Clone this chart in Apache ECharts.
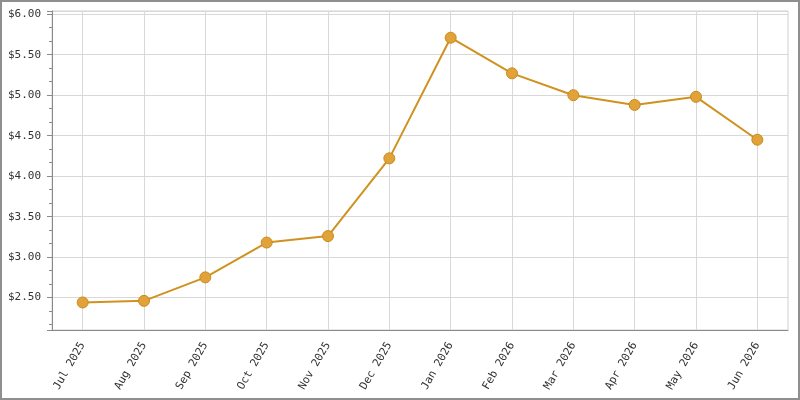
<!DOCTYPE html>
<html>
<head>
<meta charset="utf-8">
<script src="https://cdn.jsdelivr.net/npm/echarts@6/dist/echarts.min.js"></script>
<style>
  html, body { margin: 0; padding: 0; background: #fff; }
  #frame { width: 800px; height: 400px; box-sizing: border-box; border: 2px solid #8f8f8f; }
  #main { width: 796px; height: 396px; }
</style>
</head>
<body>
<div id="frame"><div id="main"></div></div>
<script>
var months = ['Jul 2025', 'Aug 2025', 'Sep 2025', 'Oct 2025', 'Nov 2025', 'Dec 2025',
              'Jan 2026', 'Feb 2026', 'Mar 2026', 'Apr 2026', 'May 2026', 'Jun 2026'];
var prices = [2.44, 2.46, 2.75, 3.18, 3.26, 4.22, 5.71, 5.27, 5.00, 4.88, 4.98, 4.45];

var myChart = echarts.init(document.getElementById('main'));
var mono = 'DejaVu Sans Mono';

myChart.setOption({
    animation: false,
    grid: {
        left: 50, right: 10, top: 9, bottom: 68,
        show: true, borderColor: '#d0d0d0', borderWidth: 1,
        outerBoundsMode: 'none'
    },
    xAxis: {
        type: 'category',
        data: months,
        boundaryGap: true,
        axisLine: { lineStyle: { color: '#8a8a8a', width: 1 } },
        axisTick: { alignWithLabel: true, length: 5, lineStyle: { color: '#8a8a8a' } },
        axisLabel: {
            rotate: 60, interval: 0, margin: 13,
            color: '#333', fontFamily: mono, fontSize: 11
        },
        splitLine: { show: true, alignWithLabel: true, lineStyle: { color: '#d8d8d8' } }
    },
    yAxis: {
        type: 'value',
        min: 2.1,
        max: 6.04,
        splitNumber: 8,
        axisLine: { show: true, lineStyle: { color: '#8a8a8a' } },
        axisTick: { show: true, length: 5, lineStyle: { color: '#8a8a8a' } },
        minorTick: { show: true, splitNumber: 3, length: 3, lineStyle: { color: '#8a8a8a' } },
        axisLabel: {
            showMinLabel: false, showMaxLabel: false, margin: 11,
            color: '#333', fontFamily: mono, fontSize: 11,
            formatter: function (v) { return '$' + v.toFixed(2); }
        },
        splitLine: { show: true, lineStyle: { color: '#d8d8d8' } }
    },
    series: [
        {
            type: 'line',
            data: prices,
            symbol: 'circle',
            symbolSize: 11,
            lineStyle: { color: '#d0921f', width: 2 },
            itemStyle: { color: '#e2a23a', borderColor: '#c88a1c', borderWidth: 1 }
        }
    ]
});
</script>
</body>
</html>
